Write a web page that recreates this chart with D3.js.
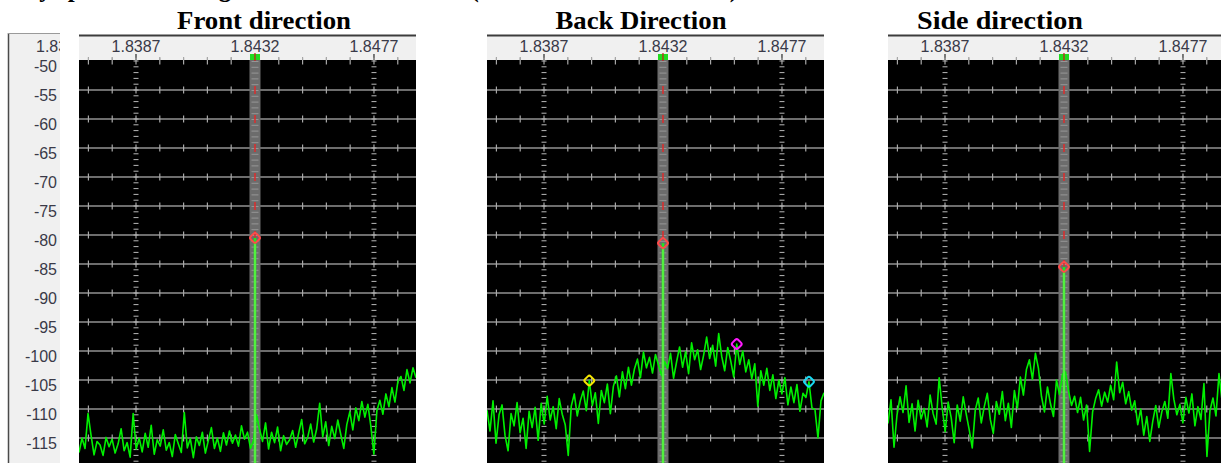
<!DOCTYPE html>
<html>
<head>
<meta charset="utf-8">
<script src="https://cdn.jsdelivr.net/npm/d3@7"></script>
<style>
  html, body { margin: 0; padding: 0; background: #fff; overflow: hidden; }
  svg { display: block; }
</style>
</head>
<body>
<svg id="chart" width="1221" height="463"></svg>
<script>
// ---- data -------------------------------------------------------------
const captionText = "Fig. 9  Single-frequency spectrum for signal in three directions (received at 1.8432 MHz)";
const panelTitles = ["Front direction", "Back Direction", "Side direction"];
const freqLabels = ["1.8387", "1.8432", "1.8477"];
const hiddenFreqLabel = "1.8342";
const levelTicks = [-50, -55, -60, -65, -70, -75, -80, -85, -90, -95, -100, -105, -110, -115];

// spectrum bins (MHz): first bin and bin width
const binStart = 1.836544;
const binWidth = 0.0001138;

const carrierFreq = 1.8432;
const carrierLevels = [-80.5, -81.4, -85.5];

// received level per bin, dBm
const frontLevels = [
  -117.5, -115.0, -116.8, -110.8, -114.5, -117.9, -115.6, -116.2, -118.0, -114.9,
  -116.5, -115.2, -117.6, -116.0, -113.4, -117.2, -115.8, -118.3, -110.8, -116.9,
  -115.0, -117.4, -114.2, -116.6, -112.8, -117.8, -115.3, -116.4, -113.6, -117.1,
  -115.8, -118.2, -114.4, -116.0, -117.5, -110.6, -116.7, -115.1, -118.4, -114.8,
  -116.3, -114.0, -117.6, -115.4, -113.2, -116.8, -115.0, -117.3, -114.1, -116.2,
  -113.8, -115.9, -114.5, -116.4, -112.9, -115.2, -114.0, -116.8, -115.5, -111.0,
  -113.5, -115.6, -112.4, -116.9, -114.0, -115.8, -113.1, -117.2, -114.6, -116.1,
  -115.3, -113.7, -116.6, -114.2, -111.8, -116.0, -114.9, -112.6, -115.7, -113.4,
  -109.0, -114.8, -112.2, -116.3, -113.0, -115.1, -111.9, -114.4, -116.8, -112.7,
  -110.5, -113.6, -109.8, -112.0, -108.7, -111.4, -109.2, -113.0, -117.8, -110.3,
  -108.5, -110.9, -107.4, -109.6, -106.3, -108.8, -105.2, -104.4, -106.8, -103.2,
  -105.5, -102.9, -104.6
];
const backLevels = [
  -110.2, -113.8, -108.6, -115.9, -111.0, -109.3, -114.6, -117.2, -110.8, -112.9,
  -108.9, -114.1, -111.6, -116.8, -110.4, -113.2, -109.7, -115.4,
  -109.0, -112.6, -107.8, -111.9, -109.6, -113.4, -108.2, -110.9, -112.7, -118.0,
  -109.5, -107.4, -111.2, -108.6, -106.9, -110.3, -105.1,
  -109.4, -107.2, -112.5, -106.8, -108.9, -105.7, -110.8, -106.1, -104.3, -107.9,
  -103.6, -106.5, -102.8, -105.9, -103.1, -101.4, -104.6, -100.2, -102.9, -101.1,
  -103.8, -100.6, -102.4,
  -104.2, -101.8,
  -103.0, -100.4, -104.7, -101.9, -99.3, -102.8, -100.1, -103.9, -98.6, -101.5,
  -99.8, -103.2, -100.7, -97.6, -101.3, -99.0, -102.6, -97.0, -100.9, -103.4,
  -99.4, -101.7, -104.5, -98.8, -102.3, -100.0, -103.6, -101.5, -104.8, -102.2,
  -109.5, -103.4, -105.9, -103.0, -106.8, -104.1, -108.2, -105.0, -107.4, -104.6,
  -109.3, -106.2, -108.9, -105.8, -110.4, -107.3, -108.0, -105.3, -109.8, -110.1,
  -115.0, -108.6, -107.2
];
const sideLevels = [
  -112.5, -108.4, -116.6, -111.0, -107.9, -110.6, -106.0, -112.3, -109.1, -113.8,
  -108.5, -111.7, -109.9, -113.1, -107.6, -110.8, -112.6, -104.6, -109.7, -113.9,
  -108.8, -111.5, -115.8, -109.3, -112.1, -107.9, -110.9, -113.6, -116.7, -110.2,
  -108.1, -112.4, -109.6, -107.3, -111.8, -114.2, -108.7, -110.9, -107.0, -112.0,
  -109.0, -113.2, -106.8, -109.9, -104.5, -107.6, -103.2, -101.5, -104.9, -100.4,
  -103.0, -107.8, -110.5, -106.2, -109.1, -111.3, -105.0, -107.5, -104.0, -103.6,
  -106.9, -109.4, -107.8, -110.6, -108.0, -111.9, -109.3, -117.3, -110.5, -108.2,
  -106.7, -109.5, -107.1, -108.8, -105.9, -108.4, -101.9, -107.2, -105.4, -109.1,
  -107.0, -110.2, -108.6, -112.7, -110.0, -114.5, -111.3, -115.6, -112.1, -109.4,
  -113.2, -110.5, -108.7, -111.6, -103.9, -108.3, -111.0, -109.2, -112.4, -108.0,
  -110.7, -107.4, -112.9, -109.6, -111.8, -105.6, -118.2, -110.3, -108.1, -111.2,
  -103.9, -108.5, -110.8
];

// extra markers on the back-direction trace
const backMarkerFreqs = [1.840413, 1.845989, 1.848721];
const backMarkerLevels = [-105.1, -98.8, -105.3];
const backMarkerColors = ["#f5e600", "#ff1aff", "#19d9f0"];

// ---- layout -------------------------------------------------------------
const svg = d3.select("#chart");
const panelLefts = [79, 487, 888];
const titleCenters = [264, 641, 1000];
const titleWidths = [174, 171, 166];
const panelW = 337;
const plotTop = 60, plotBottom = 463, headerTop = 36;

const x = d3.scaleLinear()
  .domain([binStart, binStart + binWidth * (frontLevels.length - 1)])
  .range([0, panelW]);
const y = d3.scaleLinear().domain([-50, -115]).range([61, 438]);

const minorFreqs = d3.range(-8, 8).map(k => 1.8432 + k * 0.0009)
  .filter(f => f >= x.domain()[0] && f <= x.domain()[1]);
const fineLevels = d3.range(-50, -121, -1);
const sansFont = "'Liberation Sans', Arial, sans-serif";
const serifFont = "'Liberation Serif', 'Times New Roman', serif";

// caption line above the panels (runs off the top edge)
svg.append("text")
  .attr("x", 738).attr("y", -3).attr("text-anchor", "end")
  .attr("font-family", serifFont)
  .attr("font-weight", "bold").attr("font-size", 25)
  .text(captionText);

// level scale strip on the left
svg.append("rect").attr("x", 8).attr("y", 33).attr("width", 52).attr("height", 430)
  .attr("fill", "#f0f0f0");
svg.append("line").attr("x1", 8.5).attr("x2", 8.5).attr("y1", 33).attr("y2", 463)
  .attr("stroke", "#4a4a4a").attr("stroke-width", 1.5);
svg.append("line").attr("x1", 8).attr("x2", 60).attr("y1", 33.5).attr("y2", 33.5)
  .attr("stroke", "#9a9a9a").attr("stroke-width", 1);
svg.append("clipPath").attr("id", "stripClip")
  .append("rect").attr("x", 8).attr("y", 33).attr("width", 52).attr("height", 430);
const strip = svg.append("g").attr("clip-path", "url(#stripClip)")
  .attr("font-family", sansFont).attr("font-size", 16).attr("fill", "#3a3a48");
strip.append("text").attr("x", 36).attr("y", 52).text(hiddenFreqLabel);
strip.selectAll("text.lvl").data(levelTicks).join("text")
  .attr("class", "lvl")
  .attr("x", 57).attr("text-anchor", "end")
  .attr("y", d => Math.max(y(d) + 5, 64) + 5.5)
  .text(d => d);

// one spectrum panel
function drawPanel(idx, levels, peak) {
  const left = panelLefts[idx];
  const g = svg.append("g").attr("transform", `translate(${left},0)`);
  const cx = x(carrierFreq);

  g.append("text")
    .attr("x", titleCenters[idx] - left).attr("y", 29)
    .attr("text-anchor", "middle")
    .attr("font-family", serifFont)
    .attr("font-weight", "bold").attr("font-size", 25)
    .attr("textLength", titleWidths[idx]).attr("lengthAdjust", "spacingAndGlyphs")
    .text(panelTitles[idx]);

  const clipId = "clip" + idx;
  g.append("clipPath").attr("id", clipId)
    .append("rect").attr("x", 0).attr("y", headerTop - 2).attr("width", panelW)
    .attr("height", plotBottom - headerTop + 2);
  const c = g.append("g").attr("clip-path", `url(#${clipId})`);

  // frequency header
  c.append("rect").attr("x", 0).attr("y", headerTop).attr("width", panelW)
    .attr("height", plotTop - headerTop).attr("fill", "#f0f0f0");
  c.append("line").attr("x1", 0).attr("x2", panelW).attr("y1", headerTop - 0.5).attr("y2", headerTop - 0.5)
    .attr("stroke", "#3c3c3c").attr("stroke-width", 2);
  c.selectAll("line.hminor").data(minorFreqs).join("line").attr("class", "hminor")
    .attr("x1", d => x(d)).attr("x2", d => x(d))
    .attr("y1", plotTop - 3).attr("y2", plotTop)
    .attr("stroke", "#9a9a9a").attr("stroke-width", 1);
  c.selectAll("line.hmajor").data(freqLabels).join("line").attr("class", "hmajor")
    .attr("x1", d => x(+d)).attr("x2", d => x(+d))
    .attr("y1", plotTop - 6).attr("y2", plotTop)
    .attr("stroke", "#505050").attr("stroke-width", 1.5);
  c.selectAll("text.flab").data(freqLabels).join("text").attr("class", "flab")
    .attr("x", d => x(+d)).attr("y", 52)
    .attr("text-anchor", "middle")
    .attr("font-family", sansFont).attr("font-size", 16).attr("fill", "#3a3a48")
    .text(d => d);

  // plot area
  c.append("rect").attr("x", 0).attr("y", plotTop).attr("width", panelW)
    .attr("height", plotBottom - plotTop).attr("fill", "#000");

  const gridLevels = levelTicks.filter(v => v < -50);
  c.selectAll("line.grid").data(gridLevels).join("line").attr("class", "grid")
    .attr("x1", 0).attr("x2", panelW)
    .attr("y1", d => y(d)).attr("y2", d => y(d))
    .attr("stroke", "#929292").attr("stroke-width", 1.6);

  // small crossing ticks on each grid level
  const crossTicks = [];
  levelTicks.forEach(v => minorFreqs.forEach(f => crossTicks.push([f, v])));
  c.selectAll("line.cross").data(crossTicks).join("line").attr("class", "cross")
    .attr("x1", d => x(d[0])).attr("x2", d => x(d[0]))
    .attr("y1", d => y(d[1]) - 3.5).attr("y2", d => y(d[1]) + 3.5)
    .attr("stroke", "#a8a8a8").attr("stroke-width", 1.2);

  // 1 dB ladders under the outer frequency labels
  const ladder = [];
  [freqLabels[0], freqLabels[2]].forEach(f => fineLevels.forEach(v => ladder.push([+f, v])));
  c.selectAll("line.ladder").data(ladder).join("line").attr("class", "ladder")
    .attr("x1", d => x(d[0]) - 2.5).attr("x2", d => x(d[0]) + 2.5)
    .attr("y1", d => y(d[1])).attr("y2", d => y(d[1]))
    .attr("stroke", "#b8b8b8").attr("stroke-width", 1);

  // carrier band
  c.append("rect").attr("x", cx - 5.5).attr("y", plotTop).attr("width", 11)
    .attr("height", plotBottom - plotTop).attr("fill", "#6c6c6c");
  c.selectAll("line.band").data(fineLevels).join("line").attr("class", "band")
    .attr("x1", cx - 3.5).attr("x2", cx + 3.5)
    .attr("y1", d => y(d) + 0.5).attr("y2", d => y(d) + 0.5)
    .attr("stroke", "#979797").attr("stroke-width", 1);
  c.selectAll("line.redtick").data(gridLevels).join("line").attr("class", "redtick")
    .attr("x1", cx).attr("x2", cx)
    .attr("y1", d => y(d) - 4).attr("y2", d => y(d) + 4)
    .attr("stroke", "#d83030").attr("stroke-width", 1.6);

  // spectrum trace
  const line = d3.line()
    .x((d, i) => x(binStart + i * binWidth))
    .y(d => y(d));
  c.append("path").datum(levels)
    .attr("d", line)
    .attr("fill", "none").attr("stroke", "#00f000").attr("stroke-width", 1.6)
    .attr("stroke-linejoin", "round");

  // carrier spike
  c.append("line").attr("x1", cx).attr("x2", cx)
    .attr("y1", y(peak)).attr("y2", plotBottom)
    .attr("stroke", "#22e622").attr("stroke-width", 2.6);
  c.append("line").attr("x1", cx).attr("x2", cx)
    .attr("y1", y(peak) + 6).attr("y2", plotBottom)
    .attr("stroke", "#9cff6a").attr("stroke-width", 0.8);

  // carrier flag in the header
  c.append("rect").attr("x", cx - 5).attr("y", plotTop - 6).attr("width", 10).attr("height", 6)
    .attr("fill", "#20dc20");
  c.append("line").attr("x1", cx).attr("x2", cx).attr("y1", plotTop - 7).attr("y2", plotTop + 1)
    .attr("stroke", "#d01818").attr("stroke-width", 1.2);

  // markers
  const markers = [{ f: carrierFreq, v: peak, col: "#ff4a4a" }];
  if (idx === 1) {
    backMarkerFreqs.forEach((f, i) => markers.push({ f, v: backMarkerLevels[i], col: backMarkerColors[i] }));
  }
  c.selectAll("rect.mk").data(markers).join("rect").attr("class", "mk")
    .attr("x", -4).attr("y", -4).attr("width", 8).attr("height", 8).attr("rx", 2)
    .attr("transform", d => `translate(${x(d.f)},${y(d.v)}) rotate(45)`)
    .attr("fill", "none").attr("stroke", d => d.col).attr("stroke-width", 2);
}

drawPanel(0, frontLevels, carrierLevels[0]);
drawPanel(1, backLevels, carrierLevels[1]);
drawPanel(2, sideLevels, carrierLevels[2]);
</script>
</body>
</html>
